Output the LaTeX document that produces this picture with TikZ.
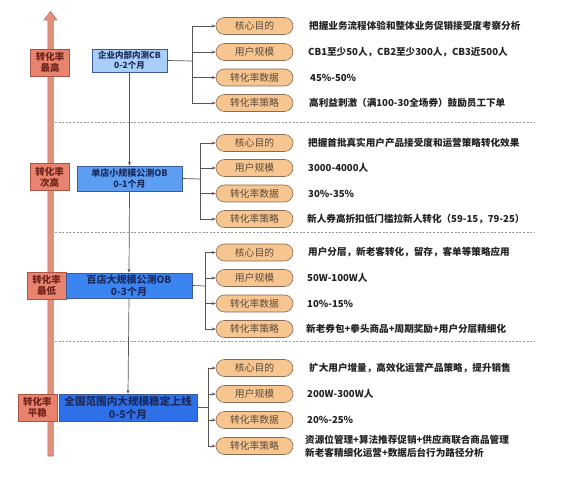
\documentclass[tikz,border=0pt]{standalone}
\usepackage{fontspec}
\newfontfamily\cjk{Noto Sans CJK SC}
\usetikzlibrary{arrows.meta}
\definecolor{arrowfill}{HTML}{E3917F}
\definecolor{arrowline}{HTML}{C06A5A}
\definecolor{redfill}{HTML}{E8836F}
\definecolor{redline}{HTML}{A85545}
\definecolor{redtext}{HTML}{6E2418}
\definecolor{blueA}{HTML}{A9CEF7}
\definecolor{blueB}{HTML}{5C9EF2}
\definecolor{blueC}{HTML}{3C84F0}
\definecolor{blueD}{HTML}{2F6FE8}
\definecolor{blueline}{HTML}{3A5A9A}
\definecolor{navy}{HTML}{1C2B5E}
\definecolor{pillfill}{HTML}{F6C590}
\definecolor{pillline}{HTML}{8A6A50}
\definecolor{pilltext}{HTML}{5A4A3A}
\definecolor{conn}{HTML}{555555}
\definecolor{sep}{HTML}{9A9A9A}
\definecolor{desc}{HTML}{222222}
\tikzset{
  redbox/.style={draw=redline, line width=0.6pt, fill=redfill, text=redtext, align=center,
    inner sep=0pt, minimum width=39pt, minimum height=27pt,
    font=\cjk\bfseries\fontsize{9.5}{11}\selectfont},
  bluebox/.style={draw=blueline, line width=0.6pt, align=center, inner sep=0pt, text=navy},
  pill/.style={draw=pillline, line width=0.6pt, fill=pillfill, text=pilltext, rounded corners=8.5pt,
    minimum width=77pt, minimum height=17pt, inner sep=0pt,
    font=\cjk\fontsize{9.8}{11}\selectfont},
  desctext/.style={anchor=west, inner sep=0pt, text=desc, align=left,
    font=\cjk\bfseries\fontsize{9.6}{13}\selectfont},
  conline/.style={draw=conn, line width=0.7pt},
  arr/.style={conline, -{Stealth[length=4pt,width=3pt]}},
  sepline/.style={draw=sep, line width=0.7pt, dash pattern=on 2pt off 1.6pt}
}
\begin{document}
\begin{tikzpicture}[x=1pt,y=-1pt]
\useasboundingbox[fill=white] (0,0) rectangle (565,478);

% separators
\draw[sepline] (55,122) -- (535,122);
\draw[sepline] (55,232) -- (535,232);
\draw[sepline] (55,341.5) -- (535,341.5);

% big arrow
\draw[fill=arrowfill, draw=arrowline, line width=0.6pt]
  (47.8,456) -- (47.8,20) -- (44,20) -- (50.5,11.5) -- (57,20) -- (53.2,20) -- (53.2,456) -- cycle;

% red labels
\node[redbox] (r1) at (50,62.5) {转化率\\最高};
\node[redbox] (r2) at (49.5,177) {转化率\\次高};
\node[redbox] (r3) at (46.5,285.5) {转化率\\最低};
\node[redbox] (r4) at (37.5,407.5) {转化率\\平稳};

% blue stage boxes
\node[bluebox, fill=blueA, minimum width=75pt, minimum height=23pt,
  font=\cjk\bfseries\fontsize{8.5}{10}\selectfont] (s1) at (129.5,60.5) {企业内部内测CB\\0-2个月};
\node[bluebox, fill=blueB, minimum width=105pt, minimum height=25pt,
  font=\cjk\bfseries\fontsize{9}{11}\selectfont] (s2) at (129.5,178.5) {单店小规模公测OB\\0-1个月};
\node[bluebox, fill=blueC, minimum width=126pt, minimum height=25pt,
  font=\cjk\bfseries\fontsize{10}{12}\selectfont] (s3) at (129,285.5) {百店大规模公测OB\\0-3个月};
\node[bluebox, fill=blueD, minimum width=138pt, minimum height=27pt,
  font=\cjk\bfseries\fontsize{10.6}{13}\selectfont] (s4) at (128,407.5) {全国范围内大规模稳定上线\\0-5个月};

\draw[arr] (s1.south) -- (s2.north);
\draw[arr] (s2.south) -- (s3.north);
\draw[arr] (s3.south) -- (s4.north);

% group 1
\node[pill] (p11) at (254.5,26) {核心目的};
\node[pill] (p12) at (254.5,52) {用户规模};
\node[pill] (p13) at (254.5,77.5) {转化率数据};
\node[pill] (p14) at (254.5,103) {转化率策略};
\node[desctext] (d11) at (309,26) {把握业务流程体验和整体业务促销接受度考察分析};
\node[desctext] (d12) at (308,52) {CB1至少50人，CB2至少300人，CB3近500人};
\node[desctext] (d13) at (310,77.5) {45\%-50\%};
\node[desctext] (d14) at (309,103) {高利益刺激（满100-30全场券）鼓励员工下单};
\coordinate (b1) at (192,61);
\draw[conline] (s1.east) -- (b1);
\draw[conline] (b1 |- p11.west) -- (b1 |- p14.west);
\foreach \p in {p11,p12,p13,p14} \draw[arr] (b1 |- \p.west) -- (\p.west);

% group 2
\node[pill] (p21) at (254.5,143) {核心目的};
\node[pill] (p22) at (254.5,168) {用户规模};
\node[pill] (p23) at (254.5,193.5) {转化率数据};
\node[pill] (p24) at (254.5,219) {转化率策略};
\node[desctext] (d21) at (308,143) {把握首批真实用户产品接受度和运营策略转化效果};
\node[desctext] (d22) at (308,168) {3000-4000人};
\node[desctext] (d23) at (308,193.5) {30\%-35\%};
\node[desctext] (d24) at (307,219) {新人券高折扣低门槛拉新人转化（59-15，79-25）};
\coordinate (b2) at (200,179);
\draw[conline] (s2.east) -- (b2);
\draw[conline] (b2 |- p21.west) -- (b2 |- p24.west);
\foreach \p in {p21,p22,p23,p24} \draw[arr] (b2 |- \p.west) -- (\p.west);

% group 3
\node[pill] (p31) at (254.5,252.5) {核心目的};
\node[pill] (p32) at (254.5,278) {用户规模};
\node[pill] (p33) at (254.5,303.5) {转化率数据};
\node[pill] (p34) at (254.5,329) {转化率策略};
\node[desctext] (d31) at (308,252.5) {用户分层，新老客转化，留存，客单等策略应用};
\node[desctext] (d32) at (307,278) {50W-100W人};
\node[desctext] (d33) at (307,303.5) {10\%-15\%};
\node[desctext] (d34) at (306,329) {新老券包+拳头商品+周期奖励+用户分层精细化};
\coordinate (b3) at (205,286);
\draw[conline] (s3.east) -- (b3);
\draw[conline] (b3 |- p31.west) -- (b3 |- p34.west);
\foreach \p in {p31,p32,p33,p34} \draw[arr] (b3 |- \p.west) -- (\p.west);

% group 4
\node[pill] (p41) at (254.5,368) {核心目的};
\node[pill] (p42) at (254.5,394) {用户规模};
\node[pill] (p43) at (254.5,420) {转化率数据};
\node[pill] (p44) at (254.5,446) {转化率策略};
\node[desctext] (d41) at (309,368) {扩大用户增量，高效化运营产品策略，提升销售};
\node[desctext] (d42) at (307,394) {200W-300W人};
\node[desctext] (d43) at (307,420) {20\%-25\%};
\node[desctext] (d44) at (305,446) {资源位管理+算法推荐促销+供应商联合商品管理\\新老客精细化运营+数据后台行为路径分析};
\coordinate (b4) at (208,407.5);
\draw[conline] (s4.east) -- (b4);
\draw[conline] (b4 |- p41.west) -- (b4 |- p44.west);
\foreach \p in {p41,p42,p43,p44} \draw[arr] (b4 |- \p.west) -- (\p.west);
\end{tikzpicture}
\end{document}
